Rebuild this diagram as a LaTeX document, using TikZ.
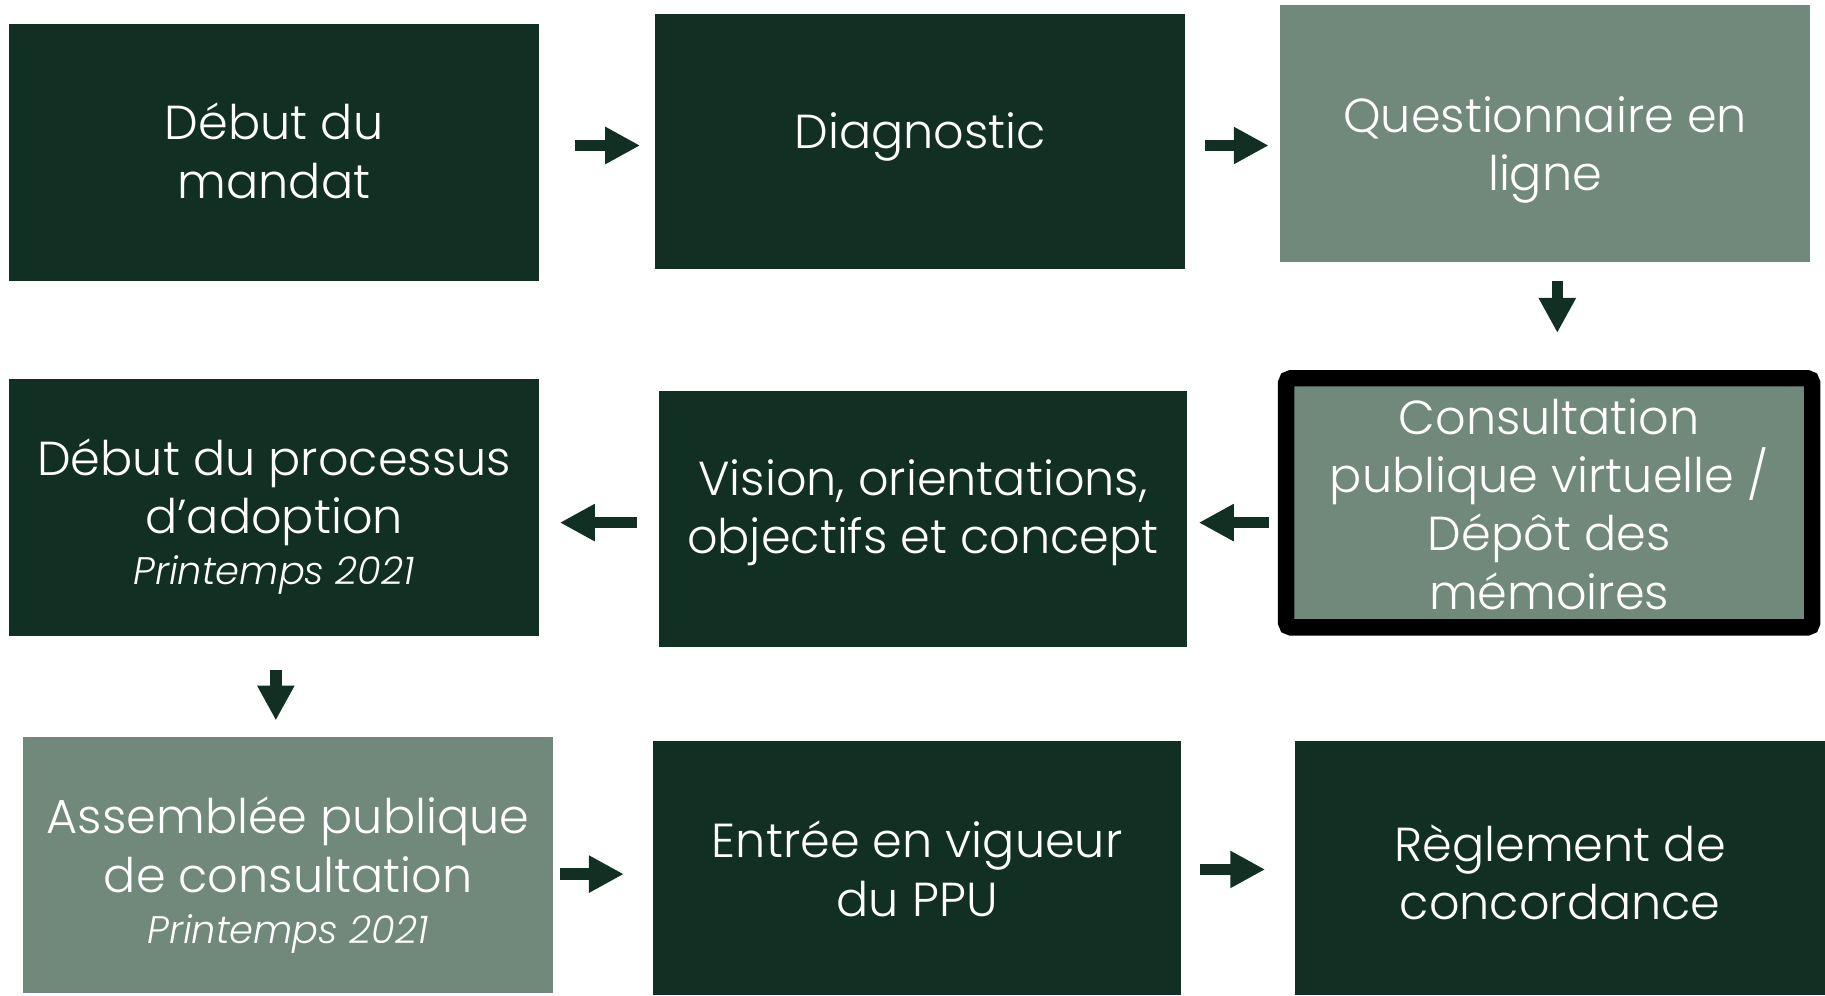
\documentclass[tikz,border=0pt]{standalone}
\usepackage{fontspec}
\setmainfont{Poppins Light}[ItalicFont={Poppins Light Italic}]
\usetikzlibrary{arrows.meta}
\definecolor{dk}{RGB}{18,47,36}
\definecolor{lt}{RGB}{112,137,122}
\newcommand\subtxt[1]{{\fontsize{33}{40}\selectfont\itshape #1}}
\begin{document}
\begin{tikzpicture}[x=1pt,y=-1pt,
  box/.style={draw=none,minimum width=#1,minimum height=220pt,inner sep=0pt,outer sep=0pt},
  dbox/.style={box=455pt,fill=dk},
  lbox/.style={box=455pt,fill=lt},
  txt/.style={text=white,align=center,font=\fontsize{41}{50}\selectfont,inner sep=0pt},
  blk/.style={draw=dk,line width=10pt,-{Triangle[length=30pt,width=30pt]}}]
\useasboundingbox (0,0) rectangle (1568,855);
% boxes
\node[dbox,minimum height=220pt] (b1) at (235.5,131) {};
\node[dbox,minimum height=219pt] (b2) at (790.5,121.5) {};
\node[lbox,minimum height=221pt] (b3) at (1327.5,114.5) {};
\node[lbox,draw=black,line width=14pt,rounded corners=4pt,minimum width=452pt,minimum height=214pt] (b4) at (1331,432) {};
\node[dbox,minimum width=454pt] (b5) at (793,446) {};
\node[dbox] (b6) at (235.5,436) {};
\node[lbox] (b7) at (247.5,743) {};
\node[dbox,minimum width=454pt,minimum height=218pt] (b8) at (788,746) {};
\node[dbox,minimum height=218pt] (b9) at (1340.5,746) {};
% texts
\node[txt] (t1) at ([yshift=1.5]b1.center) {Début du\\mandat};
\node[txt] (t2) at ([yshift=3.5]b2.center) {Diagnostic};
\node[txt] (t3) at ([yshift=-14.5]b3.center) {Questionnaire en\\ligne};
\node[txt] (t4) at ([yshift=-1]b4.center) {Consultation\\publique virtuelle /\\Dépôt des\\mémoires};
\node[txt] (t5) at ([yshift=5.5]b5.center) {Vision, orientations,\\objectifs et concept};
\node[txt] (t6) at ([yshift=-8]b6.center) {Début du processus\\d’adoption\\[-6pt]\subtxt{Printemps 2021}};
\node[txt] (t7) at ([yshift=-9]b7.center) {Assemblée publique\\de consultation\\[-6pt]\subtxt{Printemps 2021}};
\node[txt] (t8) at ([yshift=-0.5]b8.center) {Entrée en vigueur\\du PPU};
\node[txt] (t9) at ([yshift=-3.5]b9.center) {Règlement de\\concordance};
% arrows
\draw[blk] ([shift={(31,-6)}]b1.east) -- ([shift={(-13,3.5)}]b2.west);
\draw[blk] ([shift={(17,3.5)}]b2.east) -- ([shift={(-10,10.5)}]b3.west);
\draw[blk] ([shift={(10.5,16)}]b3.south) -- ([shift={(7,-39)}]b4.north);
\draw[blk] ([shift={(-15,17)}]b4.west) -- ([shift={(10,3)}]b5.east);
\draw[blk] ([shift={(-19,3)}]b5.west) -- ([shift={(18,13)}]b6.east);
\draw[blk] ([shift={(1.5,30)}]b6.south) -- ([shift={(-10.5,-14)}]b7.north);
\draw[blk] ([shift={(6,8)}]b7.east) -- ([shift={(-25,5)}]b8.west);
\draw[blk] ([shift={(16,1)}]b8.east) -- ([shift={(-26,1)}]b9.west);
\end{tikzpicture}
\end{document}
